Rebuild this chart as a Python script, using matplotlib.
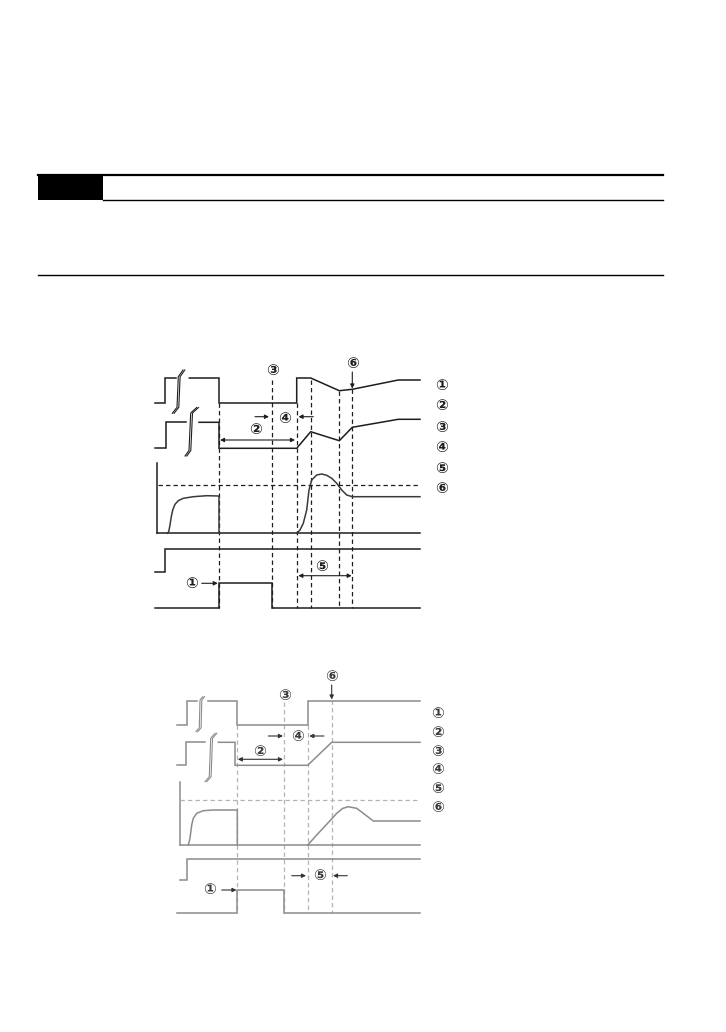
import matplotlib
matplotlib.use("Agg")
import matplotlib.pyplot as plt

W, H = 726, 1032
LABELS = ["①", "②", "③", "④", "⑤", "⑥"]

# ---------------- Diagram 1 (pixel coords) ----------------
d1_vlines_x = [219, 271.7, 296.7, 310.7, 339.3, 352.3]
d1_vlines_top = [403, 380, 403, 380, 390.7, 389.3]
d1_vlines_bot = 608.3

d1_w1a_x = [155, 165, 165, 176]
d1_w1a_y = [403, 403, 378, 378]
d1_w1b_x = [189.3, 219, 219, 296.7, 296.7, 310.7, 339.3, 352.3, 398.3, 420]
d1_w1b_y = [378, 378, 403, 403, 378, 378, 390.7, 389.3, 380, 380]

d1_w2a_x = [155, 165.7, 165.7, 186]
d1_w2a_y = [448.3, 448.3, 422.3, 422.3]
d1_w2b_x = [199, 219, 219, 296.7, 310.7, 339.3, 352.3, 398.3, 420]
d1_w2b_y = [422.3, 422.3, 448.3, 448.3, 431.7, 440.7, 427.3, 419.3, 419.3]

d1_brk1_x = [172.3, 177, 178.3, 183]
d1_brk1_y = [413.3, 407.3, 376.7, 370]
d1_brk2_x = [185, 189, 190.7, 196.7]
d1_brk2_y = [456, 450.5, 413, 407.5]

d1_w3_axis = (157, 463, 533.3)
d1_w3_base_y = 533.3
d1_w3a_x = [167.3, 168.7, 170, 171.3, 172.7, 175, 178.3, 183.3, 193.3, 206.7, 219, 219]
d1_w3a_y = [533.3, 531.7, 525, 516.7, 510, 504.3, 500.7, 498.3, 496.7, 495.7, 496, 533.3]
d1_w3b_x = [296.7, 300, 303.3, 306.7, 309, 311.7, 316.7, 321.7, 326.7, 331.7, 336.7, 341.7, 346.7, 352.3, 420]
d1_w3b_y = [533.3, 530, 523.3, 510, 490, 480, 475, 474, 475.3, 478.3, 483.3, 490, 495, 496.7, 496.7]
d1_hdash_y = 485

d1_w4_x = [155, 165, 165, 420]
d1_w4_y = [571.7, 571.7, 549.3, 549.3]
d1_w5_x = [155, 219, 219, 271.7, 271.7, 420]
d1_w5_y = [608.3, 608.3, 583.3, 583.3, 608.3, 608.3]

d1_right_x = 441.7
d1_right_y = [385.7, 406, 427.7, 448, 468.3, 488.3]

# ---------------- Diagram 2 (pixel coords) ----------------
d2_vlines_x = [237.3, 284.3, 307.7, 331.7]
d2_vlines_top = [725, 701.7, 725, 700]
d2_vlines_bot = 913.3

d2_w1a_x = [177.3, 186.7, 186.7, 196.7]
d2_w1a_y = [725, 725, 700.5, 700.5]
d2_w1b_x = [208.3, 237.3, 237.3, 307.7, 307.7, 420]
d2_w1b_y = [700.5, 700.5, 725, 725, 700.5, 700.5]

d2_w2a_x = [177.3, 186, 186, 205]
d2_w2a_y = [765.3, 765.3, 742.3, 742.3]
d2_w2b_x = [218.3, 235, 235, 307.7, 331.7, 420]
d2_w2b_y = [742.3, 742.3, 765.3, 765.3, 742.3, 742.3]

d2_brk1_x = [196, 199.3, 200, 202.8]
d2_brk1_y = [731.7, 727.7, 700, 696.7]
d2_brk2_x = [205, 209.3, 210.7, 215]
d2_brk2_y = [781.7, 776.7, 738.3, 733.3]

d2_w3_axis = (180, 781.7, 845)
d2_w3_base_y = 845
d2_w3a_x = [188.3, 190, 191.7, 193.3, 196.7, 203.3, 213.3, 237.3, 237.3]
d2_w3a_y = [845, 838.3, 825, 818.3, 813.3, 810.7, 810, 810, 845]
d2_w3b_x = [307.7, 316.7, 326.7, 336.7, 342.5, 348.3, 356.7, 363.3, 373.3, 420]
d2_w3b_y = [845, 835, 824.3, 813.3, 808.5, 806.7, 808.3, 813.3, 821, 821]
d2_hdash_y = 800

d2_w4_x = [180, 187.3, 187.3, 420]
d2_w4_y = [880, 880, 859.3, 859.3]
d2_w5_x = [176.7, 237.3, 237.3, 284.3, 284.3, 420]
d2_w5_y = [913.3, 913.3, 890, 890, 913.3, 913.3]

d2_right_x = 437.3
d2_right_y = [713.3, 732.3, 751, 770, 788.3, 807.3]

fig = plt.figure(figsize=(W / 100, H / 100), dpi=100)
ax = fig.add_axes([0, 0, 1, 1])
ax.set_xlim(0, W)
ax.set_ylim(H, 0)
ax.axis("off")

FS = 11
FW = "bold"

# ---------------- Header ----------------
ax.add_patch(plt.Rectangle((38, 174.5), 65, 25.5, color="black", lw=0))
ax.plot([38, 663], [175, 175], color="black", lw=1.6)
ax.plot([103, 663], [200.3, 200.3], color="black", lw=1.0)
ax.plot([38, 663], [274.5, 274.5], color="black", lw=1.0)


def label(x, y, s, color):
    ax.text(x, y, s, fontsize=FS, fontweight=FW, color=color,
            ha="center", va="center")


def draw_diagram(c_line, c_dash, c_curve, c_text, vx, vtop, vbot,
                 w1a, w1b, w2a, w2b, brk1, brk2, axis3, base3, c3a, c3b,
                 hdash, w4, w5, rx, ry, hd_x0):
    lw = 1.1
    dash = (0, (3.5, 2.5))
    for x, t in zip(vx, vtop):
        ax.plot([x, x], [t, vbot], color=c_dash, lw=0.9, ls=dash)
    for xs, ys in (w1a, w1b, w2a, w2b, w4, w5):
        ax.plot(xs, ys, color=c_line, lw=lw, solid_joinstyle="miter")
    for xs, ys in (brk1, brk2):
        ax.plot(xs, ys, color=c_line, lw=0.8)
        ax.plot([v + 1.8 for v in xs], ys, color=c_line, lw=0.8)
    ax.plot([axis3[0], axis3[0]], [axis3[1], axis3[2]], color=c_line, lw=lw)
    ax.plot([axis3[0], 420], [base3, base3], color=c_line, lw=lw)
    ax.plot(c3a[0], c3a[1], color=c_curve, lw=lw)
    ax.plot(c3b[0], c3b[1], color=c_curve, lw=lw)
    ax.plot([hd_x0, 420], [hdash, hdash], color=c_dash, lw=0.9, ls=dash)
    for lab, y in zip(LABELS, ry):
        label(rx, y, lab, c_text)


def arrow(x0, y0, x1, y1, color, both=False):
    ax.annotate("", xy=(x1, y1), xytext=(x0, y0),
                arrowprops=dict(arrowstyle="<|-|>" if both else "-|>",
                                mutation_scale=6, lw=0.8, color=color,
                                shrinkA=0, shrinkB=0))


# Diagram 1
c1 = "#1e1e1e"
draw_diagram(c1, c1, "#3a3a3a", c1, d1_vlines_x, d1_vlines_top, d1_vlines_bot,
             (d1_w1a_x, d1_w1a_y), (d1_w1b_x, d1_w1b_y),
             (d1_w2a_x, d1_w2a_y), (d1_w2b_x, d1_w2b_y),
             (d1_brk1_x, d1_brk1_y), (d1_brk2_x, d1_brk2_y),
             d1_w3_axis, d1_w3_base_y, (d1_w3a_x, d1_w3a_y), (d1_w3b_x, d1_w3b_y),
             d1_hdash_y, (d1_w4_x, d1_w4_y), (d1_w5_x, d1_w5_y),
             d1_right_x, d1_right_y, 158)
label(272.3, 370.7, "③", c1)
label(352.3, 363.3, "⑥", c1)
arrow(352.3, 372, 352.3, 388.5, c1)
label(284.3, 418.3, "④", c1)
arrow(255, 416.7, 269, 416.7, c1)
arrow(313.3, 416.7, 298.5, 416.7, c1)
label(256, 430, "②", c1)
arrow(220, 440, 295, 440, c1, both=True)
label(321.7, 566.7, "⑤", c1)
arrow(298.3, 575.7, 351.7, 575.7, c1, both=True)
label(191.7, 583.3, "①", c1)
arrow(201.7, 583.3, 217.8, 583.3, c1)

# Diagram 2
c2 = "#8c8c8c"
c2d = "#b4b4b4"
c2t = "#3c3c3c"
draw_diagram(c2, c2d, c2, c2t, d2_vlines_x, d2_vlines_top, d2_vlines_bot,
             (d2_w1a_x, d2_w1a_y), (d2_w1b_x, d2_w1b_y),
             (d2_w2a_x, d2_w2a_y), (d2_w2b_x, d2_w2b_y),
             (d2_brk1_x, d2_brk1_y), (d2_brk2_x, d2_brk2_y),
             d2_w3_axis, d2_w3_base_y, (d2_w3a_x, d2_w3a_y), (d2_w3b_x, d2_w3b_y),
             d2_hdash_y, (d2_w4_x, d2_w4_y), (d2_w5_x, d2_w5_y),
             d2_right_x, d2_right_y, 180)
label(331.7, 676.7, "⑥", c2t)
arrow(331.7, 685, 331.7, 699.5, "#333333")
label(284.3, 695.7, "③", c2t)
label(297.3, 736.7, "④", c2t)
arrow(268.3, 736, 283, 736, "#333333")
arrow(324, 736, 309.3, 736, "#333333")
label(260, 751, "②", c2t)
arrow(237.8, 759.3, 283, 759.3, "#333333", both=True)
label(319.3, 875.7, "⑤", c2t)
arrow(291.7, 875.7, 306, 875.7, "#333333")
arrow(347.3, 875.7, 333, 875.7, "#333333")
label(210, 890, "①", c2t)
arrow(221.7, 890, 236.5, 890, "#333333")

fig.savefig("out.png", dpi=100)
